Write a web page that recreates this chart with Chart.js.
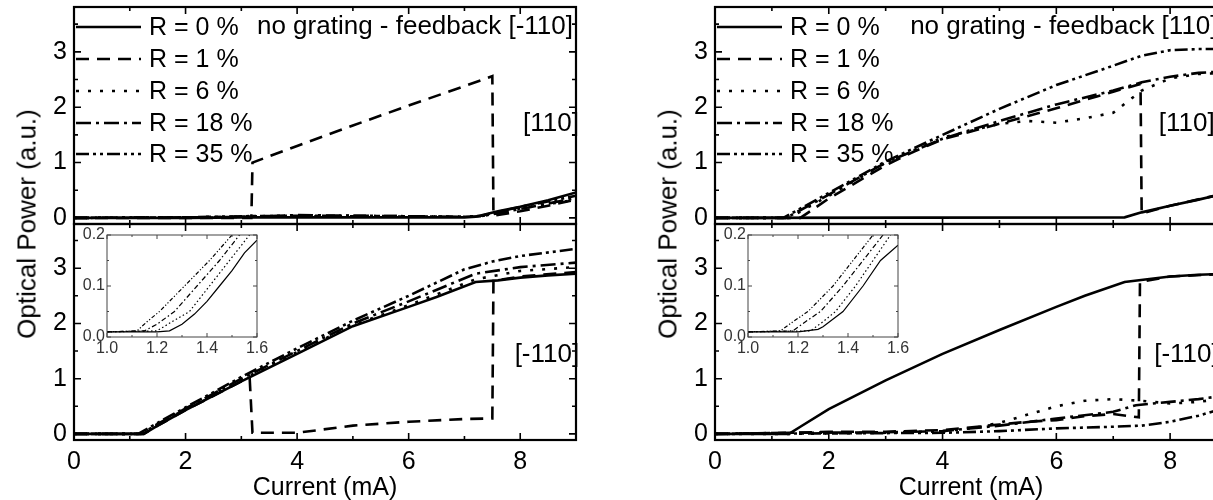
<!DOCTYPE html>
<html lang="en">
<head>
<meta charset="UTF-8">
<title>Optical power vs current</title>
<script src="https://cdn.jsdelivr.net/npm/chart.js"></script>
<style>
  html, body { margin: 0; padding: 0; background: #fff; overflow: hidden; }
  #wrap { position: relative; width: 1213px; height: 500px; overflow: hidden; }
  canvas { position: absolute; }
  .ytitle { position: absolute; font-size: 26px; font-family: 'Liberation Sans', Arial, sans-serif;
            white-space: nowrap; transform: translate(-50%, -50%) rotate(-90deg); }
</style>
</head>
<body>
<div id="wrap">
  <canvas id="lb" width="600" height="500" style="left:0;top:0"></canvas>
  <canvas id="lt" width="600" height="240" style="left:0;top:0"></canvas>
  <canvas id="li" width="210" height="145" style="left:60px;top:225px"></canvas>
  <canvas id="rb" width="610" height="500" style="left:641px;top:0"></canvas>
  <canvas id="rt" width="610" height="240" style="left:641px;top:0"></canvas>
  <canvas id="ri" width="210" height="145" style="left:701px;top:225px"></canvas>
  <div class="ytitle" style="left:27px;top:224px">Optical Power (a.u.)</div>
  <div class="ytitle" style="left:668px;top:224px">Optical Power (a.u.)</div>
</div>

<script>
const FONT = "'Liberation Sans', Arial, sans-serif";

const seriesLabels = ['R = 0 %', 'R = 1 %', 'R = 6 %', 'R = 18 %', 'R = 35 %'];
const xTicksMain = [0, 2, 4, 6, 8];
const yTicksMain = [0, 1, 2, 3];
const xTicksInset = [1.0, 1.2, 1.4, 1.6];
const yTicksInset = [0.0, 0.1, 0.2];

// left column, upper panel: [110] polarisation, feedback [-110]
const ltR0 = [[0,0],[1,0],[2,0],[3,0.01],[4,0.01],[5,0.01],[6,0.01],[7,0.01],[7.2,0.02],[7.6,0.12],[8,0.2],[8.5,0.32],[9,0.46]];
const ltR1 = [[0,0],[1,0],[2,0],[3.18,0],[3.2,1.0],[4,1.3],[5,1.67],[6,2.03],[7,2.38],[7.5,2.56],[7.52,0.04],[8,0.12],[8.5,0.22],[9,0.33]];
const ltR6 = [[0,0],[2,0.01],[3,0.02],[5,0.03],[7,0.02],[7.3,0.03],[8,0.17],[9,0.33]];
const ltR18 = [[0,0],[2,0.01],[3,0.02],[4,0.05],[5,0.04],[6,0.03],[7,0.02],[7.3,0.03],[8,0.16],[9,0.36]];
const ltR35 = [[0,0],[2,0.01],[3,0.03],[4,0.04],[5,0.04],[6,0.03],[7,0.02],[7.3,0.04],[8,0.2],[9,0.4]];

// left column, lower panel: [-110] polarisation
const lbR0 = [[0,0],[1.25,0],[1.5,0.15],[2,0.43],[3,0.95],[4,1.45],[5,1.95],[6,2.3],[6.5,2.48],[7.2,2.75],[7.6,2.78],[8,2.83],[8.5,2.87],[9,2.9]];
const lbR1 = [[0,0],[1.25,0],[1.5,0.15],[2,0.43],[3,0.95],[3.15,1.0],[3.2,0.02],[4,0.02],[5,0.15],[6,0.22],[7,0.27],[7.5,0.28],[7.52,2.77],[8,2.85],[9,2.93]];
const lbR6 = [[0,0],[1.25,0],[1.5,0.17],[2,0.45],[3,0.98],[4,1.48],[5,1.97],[6,2.33],[7.2,2.8],[8,2.95],[9,3.02]];
const lbR18 = [[0,0],[1.2,0],[1.5,0.18],[2,0.46],[3,1.0],[4,1.5],[5,2.0],[6,2.4],[7.2,2.9],[8,3.02],[9,3.1]];
const lbR35 = [[0,0],[1.15,0],[1.5,0.2],[2,0.48],[3,1.03],[4,1.55],[5,2.05],[6,2.5],[7,2.98],[7.5,3.12],[8,3.22],[9,3.35]];

// right column, upper panel: [110] polarisation, feedback [110]
const rtR0 = [[0,0],[7.2,0.01],[7.5,0.1],[8,0.22],[8.5,0.33],[9,0.45]];
const rtR1 = [[0,0],[1.5,0],[2,0.35],[2.5,0.65],[3,0.95],[3.5,1.2],[4,1.42],[5,1.7],[6,1.98],[7,2.28],[7.48,2.42],[7.5,0.08],[8,0.22],[9,0.45]];
const rtR6 = [[0,0],[1.3,0],[2,0.4],[3,1.0],[4,1.45],[5,1.7],[5.5,1.75],[6,1.72],[6.5,1.8],[7,1.9],[7.5,2.3],[8,2.52],[8.5,2.6],[9,2.62]];
const rtR18 = [[0,0],[1.25,0],[2,0.42],[3,1.0],[4,1.43],[5,1.75],[6,2.05],[7,2.3],[7.5,2.45],[8,2.55],[8.5,2.62],[9,2.65]];
const rtR35 = [[0,0],[1.2,0],[2,0.45],[3,1.02],[4,1.5],[5,1.97],[6,2.4],[7,2.75],[7.5,2.93],[8,3.03],[8.5,3.05],[9,3.05]];

// right column, lower panel: [-110] polarisation
const rbR0 = [[0,0],[1.3,0],[1.5,0.13],[2,0.45],[3,0.97],[4,1.45],[5,1.88],[6,2.3],[6.5,2.5],[7.2,2.75],[7.6,2.8],[8,2.85],[8.5,2.88],[9,2.9]];
const rbR1 = [[0,0],[1.3,0.02],[2,0.04],[3,0.04],[4,0.07],[5,0.17],[5.5,0.22],[6,0.25],[6.5,0.32],[7,0.36],[7.3,0.32],[7.45,0.3],[7.47,2.75],[8,2.85],[9,2.9]];
const rbR6 = [[0,0],[1.3,0],[3,0.02],[4,0.05],[4.5,0.1],[5,0.2],[5.5,0.35],[6,0.5],[6.5,0.6],[7,0.63],[7.5,0.6],[8,0.55],[8.5,0.58],[9,0.65]];
const rbR18 = [[0,0],[1.3,0.02],[3,0.03],[4,0.05],[5,0.15],[6,0.28],[7,0.4],[7.4,0.52],[8,0.58],[8.5,0.63],[9,0.7]];
const rbR35 = [[0,0],[4,0.02],[5,0.05],[6,0.1],[7,0.13],[7.5,0.15],[8,0.22],[8.5,0.33],[9,0.48]];

// insets, threshold region
const liR0 = [[1,0.01],[1.2,0.01],[1.25,0.012],[1.3,0.025],[1.35,0.045],[1.4,0.07],[1.45,0.1],[1.5,0.13],[1.55,0.165],[1.6,0.19]];
const liR6 = [[1,0.01],[1.2,0.012],[1.26,0.03],[1.33,0.05],[1.41,0.1],[1.49,0.15],[1.57,0.2],[1.6,0.22]];
const liR18 = [[1,0.01],[1.15,0.012],[1.2,0.025],[1.27,0.05],[1.36,0.1],[1.45,0.15],[1.53,0.2],[1.6,0.24]];
const liR35 = [[1,0.01],[1.12,0.012],[1.16,0.03],[1.21,0.05],[1.31,0.1],[1.41,0.15],[1.5,0.2],[1.6,0.25]];

const riR0 = [[1,0.01],[1.2,0.01],[1.28,0.015],[1.3,0.02],[1.38,0.05],[1.46,0.1],[1.53,0.15],[1.6,0.18]];
const riR6 = [[1,0.01],[1.25,0.012],[1.3,0.03],[1.35,0.05],[1.43,0.1],[1.5,0.15],[1.57,0.2],[1.6,0.22]];
const riR18 = [[1,0.01],[1.18,0.012],[1.23,0.03],[1.29,0.05],[1.38,0.1],[1.46,0.15],[1.54,0.2],[1.6,0.24]];
const riR35 = [[1,0.01],[1.13,0.012],[1.18,0.03],[1.24,0.05],[1.34,0.1],[1.42,0.15],[1.5,0.2],[1.6,0.25]];

const DASH = [[], [13, 8], [3, 9], [15, 5, 3, 5], [13, 4, 3, 4, 3, 4]];
const DASH_IN = [[], [5, 3], [1.5, 2.5], [5, 2.5, 1.5, 2.5], [4, 2, 1.2, 2, 1.2, 2]];

function sets(list, dash, width) {
  const out = [];
  list.forEach((d, i) => {
    if (!d) return;
    out.push({ label: seriesLabels[i], data: d, borderColor: '#000', borderWidth: width,
               borderDash: dash[i], pointRadius: 0, tension: 0, fill: false, borderCapStyle: 'butt' });
  });
  return out;
}

// box + inward ticks on all sides
const frame = {
  id: 'frame',
  beforeDraw(chart, args, o) {
    if (!o.bg) return;
    const a = chart.chartArea;
    chart.ctx.save();
    chart.ctx.fillStyle = o.bg;
    chart.ctx.fillRect(a.left, a.top, a.right - a.left, a.bottom - a.top);
    chart.ctx.restore();
  },
  afterDatasetsDraw(chart, args, o) {
    const { ctx, chartArea: a, scales: { x, y } } = chart;
    ctx.save();
    ctx.strokeStyle = o.color;
    ctx.lineWidth = o.lw;
    ctx.strokeRect(a.left, a.top, a.right - a.left, a.bottom - a.top);
    ctx.lineWidth = o.tw;
    ctx.beginPath();
    const nx = Math.round((x.max - x.min) / o.xminor);
    for (let i = 0; i <= nx; i++) {
      const v = x.min + i * o.xminor;
      const major = Math.abs(v / o.xmajor - Math.round(v / o.xmajor)) < 1e-6;
      const L = major ? o.big : o.small;
      const px = x.getPixelForValue(v);
      ctx.moveTo(px, a.bottom); ctx.lineTo(px, a.bottom - L);
      ctx.moveTo(px, a.top); ctx.lineTo(px, a.top + L);
    }
    const y0 = Math.ceil(y.min / o.yminor - 1e-6);
    const y1 = Math.floor(y.max / o.yminor + 1e-6);
    for (let i = y0; i <= y1; i++) {
      const v = i * o.yminor;
      const major = Math.abs(v / o.ymajor - Math.round(v / o.ymajor)) < 1e-6;
      const L = major ? o.big : o.small;
      const py = y.getPixelForValue(v);
      ctx.moveTo(a.left, py); ctx.lineTo(a.left + L, py);
      ctx.moveTo(a.right, py); ctx.lineTo(a.right - L, py);
    }
    ctx.stroke();
    ctx.restore();
  }
};

// legend rows and text labels inside the plot
const notes = {
  id: 'notes',
  afterDatasetsDraw(chart, args, o) {
    if (!o.size) return;
    const { ctx, chartArea: a, scales: { x, y } } = chart;
    ctx.save();
    ctx.fillStyle = '#000';
    ctx.font = o.size + 'px ' + FONT;
    ctx.textBaseline = 'middle';
    (o.items || []).forEach(it => {
      ctx.textAlign = 'left';
      ctx.fillText(it.text, x.getPixelForValue(it.x), y.getPixelForValue(it.y));
    });
    if (o.rows) {
      ctx.font = o.rowSize + 'px ' + FONT;
      chart.data.datasets.forEach((ds, i) => {
        const py = a.top + o.rows[i];
        ctx.strokeStyle = '#000';
        ctx.lineWidth = ds.borderWidth;
        ctx.setLineDash(ds.borderDash);
        ctx.beginPath();
        ctx.moveTo(a.left + 2, py); ctx.lineTo(a.left + 67, py);
        ctx.stroke();
        ctx.setLineDash([]);
        ctx.textAlign = 'left';
        ctx.fillText(ds.label, a.left + 75, py + 1);
      });
    }
    ctx.restore();
  }
};

function panel(id, c) {
  return new Chart(document.getElementById(id), {
    type: 'line',
    data: { datasets: c.datasets },
    options: {
      responsive: false, animation: false, devicePixelRatio: 1,
      layout: { padding: c.pad },
      plugins: { legend: { display: false }, tooltip: { enabled: false }, frame: c.frame, notes: c.notes || {} },
      scales: {
        x: {
          type: 'linear', min: c.xmin, max: c.xmax,
          grid: { display: false, drawTicks: false }, border: { display: false },
          afterBuildTicks: s => { s.ticks = c.xticks.map(v => ({ value: v })); },
          afterFit: s => { s.height = c.xh; s.paddingLeft = 0; s.paddingRight = 0; },
          ticks: { display: c.xlabels, padding: c.xpad, autoSkip: false, maxRotation: 0,
                   font: { family: FONT, size: c.fs }, color: c.tc, callback: v => v.toFixed(c.dec) },
          title: { display: !!c.xtitle, text: c.xtitle || '', color: '#000',
                   font: { family: FONT, size: 25 }, padding: { top: 0, bottom: -3 } }
        },
        y: {
          type: 'linear', min: c.ymin, max: c.ymax,
          grid: { display: false, drawTicks: false }, border: { display: false },
          afterBuildTicks: s => { s.ticks = c.yticks.map(v => ({ value: v })); },
          afterFit: s => { s.width = c.yw; s.paddingTop = 0; s.paddingBottom = 0; },
          ticks: { padding: c.ypad, font: { family: FONT, size: c.fs }, color: c.tc,
                   callback: v => v.toFixed(c.dec) }
        }
      }
    },
    plugins: [frame, notes]
  });
}

const mainFrame = { color: '#000', lw: 2.2, tw: 1.6, big: 7, small: 4, xminor: 1, xmajor: 2, yminor: 0.5, ymajor: 1 };
const insetFrame = { color: '#444', lw: 1, tw: 1, big: 4, small: 2, xminor: 0.1, xmajor: 0.2, yminor: 0.05, ymajor: 0.1, bg: '#fff' };
const legendRows = [20, 52, 84, 116, 147];

function column(prefix, top, bottom, inset, feedback, slot) {
  panel(prefix + 't', {
    datasets: sets(top, DASH, 2.6), pad: { top: 7, right: 24, left: 0, bottom: 0 },
    xmin: 0, xmax: 9, ymin: -0.11, ymax: 3.81, xticks: xTicksMain, yticks: yTicksMain,
    xh: 16, yw: 74, xlabels: false, xpad: 0, ypad: 7, fs: 25, tc: '#000', dec: 0, frame: mainFrame,
    notes: { size: 26, rowSize: 25, rows: legendRows,
             items: [{ text: 'no grating - feedback ' + feedback, x: slot.fx, y: 3.45 },
                     { text: '[110]', x: slot.ax, y: 1.7 }] }
  });
  panel(prefix + 'b', {
    datasets: sets(bottom, DASH, 2.6), pad: { top: 224, right: 24, left: 0, bottom: 0 },
    xmin: 0, xmax: 9, ymin: -0.11, ymax: 3.8, xticks: xTicksMain, yticks: yTicksMain,
    xh: 60, yw: 74, xlabels: true, xpad: 7, ypad: 7, fs: 25, tc: '#000', dec: 0, frame: mainFrame,
    xtitle: 'Current (mA)',
    notes: { size: 26, items: [{ text: '[-110]', x: slot.bx, y: 1.43 }] }
  });
  panel(prefix + 'i', {
    datasets: sets(inset, DASH_IN, 1.2), pad: { top: 10, right: 13, left: 0, bottom: 0 },
    xmin: 1.0, xmax: 1.6, ymin: 0, ymax: 0.2, xticks: xTicksInset, yticks: yTicksInset,
    xh: 33, yw: 47, xlabels: true, xpad: 2, ypad: 2, fs: 16, tc: '#333', dec: 1, frame: insetFrame
  });
}

column('l', [ltR0, ltR1, ltR6, ltR18, ltR35], [lbR0, lbR1, lbR6, lbR18, lbR35],
       [liR0, null, liR6, liR18, liR35], '[-110]', { fx: 3.28, ax: 8.05, bx: 7.9 });
column('r', [rtR0, rtR1, rtR6, rtR18, rtR35], [rbR0, rbR1, rbR6, rbR18, rbR35],
       [riR0, null, riR6, riR18, riR35], '[110]', { fx: 3.43, ax: 7.8, bx: 7.72 });
</script>
</body>
</html>
